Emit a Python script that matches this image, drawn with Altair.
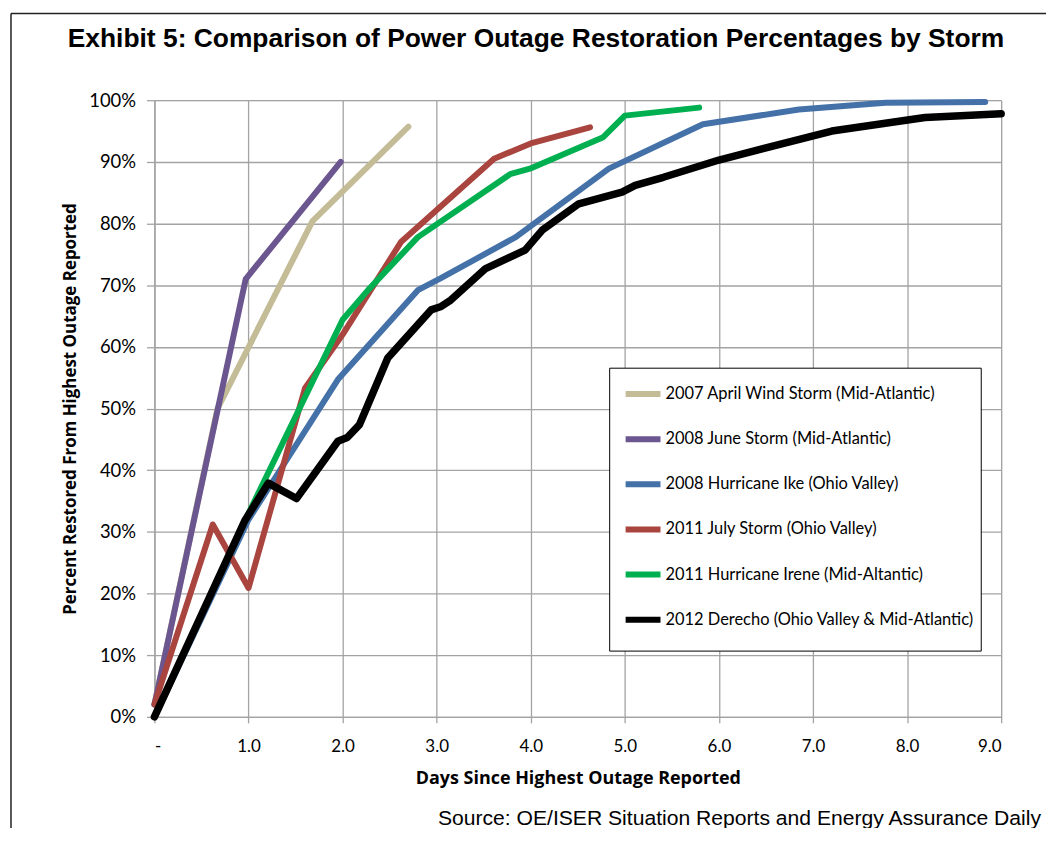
import altair as alt
import pandas as pd

TITLE = "Exhibit 5: Comparison of Power Outage Restoration Percentages by Storm"
SOURCE = "Source: OE/ISER Situation Reports and Energy Assurance Daily"
X_TITLE = "Days Since Highest Outage  Reported"
Y_TITLE = "Percent Restored From Highest Outage Reported"

SERIES = [
    "2007 April Wind Storm (Mid-Atlantic)",
    "2008 June Storm (Mid-Atlantic)",
    "2008 Hurricane Ike (Ohio Valley)",
    "2011 July Storm (Ohio Valley)",
    "2011 Hurricane Irene (Mid-Altantic)",
    "2012 Derecho (Ohio Valley & Mid-Atlantic)",
]
COLORS = ["#C4BC96", "#6B568F", "#4471A8", "#A9443F", "#00B050", "#000000"]
WIDTHS = [6, 6, 6, 6, 6, 7.5]

tan_days = [0, 0.67, 1.68, 2.70]
tan_pct = [2, 50, 80.4, 95.7]

purple_days = [0, 0.97, 1.98]
purple_pct = [2, 71, 90]

blue_days = [0, 1.0, 1.95, 2.8, 3.04, 3.84, 4.83, 5.83, 6.85, 7.77, 8.83]
blue_pct = [0, 32, 54.7, 69.2, 71.1, 77.8, 88.9, 96.1, 98.5, 99.6, 99.7]

red_days = [0, 0.62, 1.0, 1.6, 2.0, 2.62, 3.61, 4.0, 4.63]
red_pct = [2, 31.2, 20.9, 53.3, 62, 77, 90.5, 93, 95.6]

green_days = [0, 1.0, 2.0, 2.27, 2.8, 3.78, 3.99, 4.77, 5.0, 5.79]
green_pct = [0, 33, 64.4, 69.2, 77.8, 88.0, 88.9, 94.0, 97.5, 98.8]

black_days = [0, 0.96, 1.21, 1.51, 1.95, 2.05, 2.18, 2.48, 2.94, 3.04, 3.15,
              3.52, 3.94, 4.12, 4.51, 4.97, 5.11, 5.41, 6.0, 7.2, 8.19, 9.0]
black_pct = [0, 31.8, 37.9, 35.4, 44.7, 45.3, 47.4, 58.2, 66.0, 66.5, 67.6,
             72.7, 75.7, 78.9, 83.2, 85.1, 86.2, 87.5, 90.3, 95.0, 97.2, 97.8]

ALL_DAYS = [tan_days, purple_days, blue_days, red_days, green_days, black_days]
ALL_PCT = [tan_pct, purple_pct, blue_pct, red_pct, green_pct, black_pct]

rows = []
for name, ds, ps in zip(SERIES, ALL_DAYS, ALL_PCT):
    for i, (d, p) in enumerate(zip(ds, ps)):
        rows.append({"series": name, "day": d, "pct": p, "idx": i})
df = pd.DataFrame(rows)

W, H = 850, 619
GRID = "#a3a3a3"

color_scale = alt.Scale(domain=SERIES, range=COLORS)

layers = []
for k, (name, sw) in enumerate(zip(SERIES, WIDTHS)):
    enc = dict(
        x=alt.X("day:Q",
                scale=alt.Scale(domain=[0, 9], nice=False),
                axis=alt.Axis(values=list(range(10)),
                              labelExpr="datum.value == 0 ? '-' : format(datum.value, '.1f')",
                              title=X_TITLE, grid=True, gridColor=GRID, gridWidth=1.3,
                              domainColor=GRID, domainWidth=1.3, tickColor=GRID,
                              tickSize=6, tickWidth=1.3,
                              labelFont="Lato", labelFontSize=17,
                              labelColor="#000", labelPadding=16,
                              titleFont="Open Sans", titleFontSize=18, titleFontWeight="bold",
                              titleColor="#000", titleX=425, titleY=67,
                              titleBaseline="alphabetic", titleAlign="center")),
        y=alt.Y("pct:Q",
                scale=alt.Scale(domain=[0, 100], nice=False),
                axis=alt.Axis(values=list(range(0, 101, 10)),
                              labelExpr="datum.value + '%'",
                              title=Y_TITLE, grid=True, gridColor=GRID, gridWidth=1.3,
                              domainColor=GRID, domainWidth=1.3, tickColor=GRID,
                              tickSize=8, tickWidth=1.3,
                              labelFont="Lato", labelFontSize=18.5, labelColor="#000",
                              labelPadding=11,
                              titleFont="Open Sans", titleFontSize=17, titleFontWeight="bold",
                              titleColor="#000", titleX=-84, titleY=309.5,
                              titleAlign="center", titleBaseline="middle", titleAngle=-90)),
        color=alt.Color("series:N", scale=color_scale,
                        legend=alt.Legend(title=None, orient="none", legendX=470,
                                          legendY=274.5, padding=0,
                                          symbolType="stroke", symbolSize=1225,
                                          symbolStrokeWidth=6, rowPadding=12.3,
                                          labelOffset=2, labelFont="Lato",
                                          labelFontSize=16.5, labelColor="#000",
                                          labelLimit=400)),
        order=alt.Order("idx:Q"),
    )
    layer = (alt.Chart(df)
             .transform_filter(alt.datum.series == name)
             .mark_line(strokeWidth=sw, strokeCap="round", strokeJoin="round")
             .encode(**enc))
    layers.append(layer)

one = pd.DataFrame({"title": [TITLE], "source": [SOURCE]})

legend_box = alt.Chart(one).mark_rect(fill="white", stroke="black", strokeWidth=1).encode(
    x=alt.value(457), x2=alt.value(830), y=alt.value(269), y2=alt.value(553))

title = alt.Chart(one).mark_text(font="Liberation Sans", fontSize=26.5, fontWeight="bold",
                                 align="center", baseline="alphabetic", color="#000").encode(
    text="title:N", x=alt.value(383), y=alt.value(-53))

source = alt.Chart(one).mark_text(font="Liberation Sans", fontSize=21.2, align="right",
                                  baseline="alphabetic", color="#000").encode(
    text="source:N", x=alt.value(890), y=alt.value(727.5))

frame_top = alt.Chart(one).mark_rule(color="#222", strokeWidth=1.5).encode(
    x=alt.value(-144), x2=alt.value(900), y=alt.value(-87))
frame_left = alt.Chart(one).mark_rule(color="#222", strokeWidth=1.5).encode(
    x=alt.value(-144), y=alt.value(-87), y2=alt.value(740))

chart = alt.layer(legend_box, *layers, title, source, frame_top, frame_left).properties(
    width=W, height=H,
    autosize=alt.AutoSizeParams(type="none"),
    padding={"left": 147, "top": 91, "right": 45, "bottom": 110},
).configure_view(strokeWidth=0).configure(background="white")

chart.save("out.html", embed_options={"renderer": "svg", "actions": False})
